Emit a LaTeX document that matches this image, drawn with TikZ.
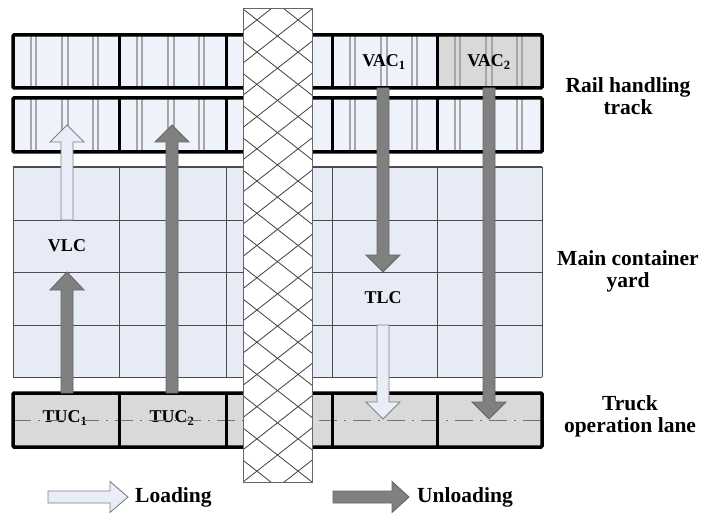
\documentclass[tikz,border=0pt]{standalone}
\usepackage{fontspec}
\setmainfont{Liberation Serif}
\definecolor{railfill}{HTML}{EEF2FA}
\definecolor{yardfill}{HTML}{E6EBF6}
\definecolor{lanefill}{HTML}{D9D9D9}
\definecolor{darkarr}{HTML}{808080}
\definecolor{lightarr}{HTML}{E9EDF7}
\newcommand\varrow[5]{\draw[#1] (#2-6,#3) -- (#2-6,#4) -- (#2-17,#4) -- (#2,#5) -- (#2+17,#4) -- (#2+6,#4) -- (#2+6,#3) -- cycle;}
\newcommand\harrow[5]{\draw[#1] (#3,#2-6) -- (#4,#2-6) -- (#4,#2-15.5) -- (#5,#2) -- (#4,#2+15.5) -- (#4,#2+6) -- (#3,#2+6) -- cycle;}
\begin{document}
\begin{tikzpicture}[x=1pt,y=-1pt,
  gridline/.style={draw=black!70,line width=1pt},
  railline/.style={draw=black!35,line width=1.1pt},
  thickbox/.style={draw=black,line width=3.5pt,rounded corners=1pt},
  divider/.style={draw=black,line width=3pt},
  hatch/.style={draw=black!75,line width=0.8pt},
  stripborder/.style={draw=black!60,line width=1pt},
  lightarrow/.style={fill=lightarr,draw=black!50,line width=0.9pt},
  darkarrow/.style={fill=darkarr,draw=black!60,line width=0.9pt},
  lbl/.style={font=\bfseries\fontsize{18}{18}\selectfont,inner sep=0pt},
  side/.style={font=\bfseries\fontsize{21.5}{22}\selectfont,align=center,inner sep=0pt},
  dashdot/.style={draw=black!55,line width=1pt,dash pattern=on 18pt off 7pt on 2pt off 7pt}
]
\useasboundingbox (0,0) rectangle (703,513);

% main container yard
\fill[yardfill] (13,167) rectangle (542,377);
\foreach \x in {13,119,226,332,437,542} \draw[gridline] (\x,167) -- (\x,377);
\foreach \y in {167,220,272,325,377} \draw[gridline] (13,\y) -- (542,\y);

% rail handling track
\foreach \t/\b in {35/88,98/152} {
  \fill[railfill] (13,\t) rectangle (542,\b);
}
\fill[lanefill] (437,35) rectangle (542,88);
\foreach \t/\b in {35/88,98/152} {
  \foreach \x in {13,119,226,332,437} {
    \foreach \o in {18,23,49,55,80,85} \draw[railline] (\x+\o,\t) -- (\x+\o,\b);
  }
  \draw[thickbox] (13,\t) rectangle (542,\b);
  \foreach \x in {119,226,332,437} \draw[divider] (\x,\t) -- (\x,\b);
}

% truck operation lane
\fill[lanefill] (13,393) rectangle (542,447);
\node[lbl] (tuc1) at (65,418) {TUC\textsubscript{1}};
\node[lbl] (tuc2) at (172,418) {TUC\textsubscript{2}};
\draw[dashdot] (13,420) -- (542,420);
\draw[thickbox] (13,393) rectangle (542,447);
\foreach \x in {119,226,332,437} \draw[divider] (\x,393) -- (\x,447);

% hatched strip
\begin{scope}
  \clip (243,9) rectangle (312,482);
  \fill[white] (243,9) rectangle (312,482);
  \foreach \k in {-2,...,15} {
    \draw[hatch] (243,9+\k*32.23) -- (312,63+\k*32.23);
    \draw[hatch] (312,9+\k*32.23) -- (243,63+\k*32.23);
  }
\end{scope}
\draw[stripborder] (243,9) rectangle (312,482);

% flow arrows
\varrow{lightarrow}{67}{220}{142}{125}
\varrow{darkarrow}{67}{393}{290}{272}
\varrow{darkarrow}{172}{393}{142}{125}
\varrow{darkarrow}{383}{88}{255}{272}
\varrow{lightarrow}{383}{325}{402}{419}
\varrow{darkarrow}{489}{88}{402}{419}

% labels
\node[lbl] (vlc) at (67,246) {VLC};
\node[lbl] (tlc) at (383,298) {TLC};
\node[lbl] (vac1) at (384,62) {VAC\textsubscript{1}};
\node[lbl] (vac2) at (489,62) {VAC\textsubscript{2}};

\node[side] (rail) at (628,96) {Rail handling\\track};
\node[side] (yard) at (628,271) {Main container\\yard};
\node[side] (lane) at (630,416) {Truck\\operation lane};

% legend
\harrow{lightarrow}{497}{48}{110}{128}
\node[side,anchor=west] (load) at (135,497) {Loading};
\harrow{darkarrow}{497}{333}{392}{409}
\node[side,anchor=west] (unload) at (417,497) {Unloading};
\end{tikzpicture}
\end{document}
